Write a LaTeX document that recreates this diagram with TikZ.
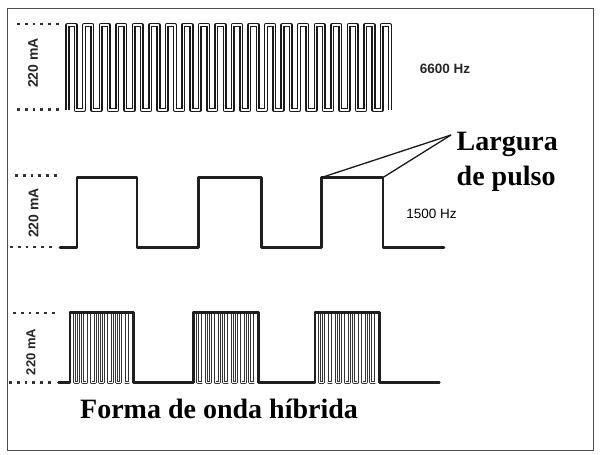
\documentclass[tikz,border=0pt]{standalone}
\usepackage{fontspec}
\setmainfont{Liberation Serif}
\newfontfamily\lsans{Liberation Sans}
\begin{document}
\begin{tikzpicture}[x=1pt,y=-1pt,
  frame/.style={draw=black!70, line width=1pt},
  thickwave/.style={draw=black!88, line width=2.8pt, line join=round, line cap=round},
  dblwave/.style={draw=black!90, line width=1.5pt, double=white, double distance=1.1pt, line join=round},
  thinwave/.style={draw=black!80, line width=0.9pt, double=white, double distance=0.8pt, line join=round},
  dotsq/.style={fill=black!80},
  pointer/.style={draw=black!90, line width=1.3pt},
  amp/.style={font=\lsans\bfseries\fontsize{14}{15}\selectfont, text=black!85, rotate=90, inner sep=0pt},
  freq/.style={font=\lsans\bfseries\fontsize{13.5}{15}\selectfont, text=black!85, inner sep=0pt},
  big/.style={font=\bfseries\fontsize{28}{30}\selectfont, text=black, inner sep=0pt}
]
\useasboundingbox (0,0) rectangle (600,455);
\draw[frame] (7,8) rectangle (593,450);

% dotted reference rows
\foreach \x/\y in {17/24, 17/109.5, 15/175.5, 10/247, 13/313, 9/382.5} {
  \foreach \i in {0,...,5} {
    \fill[dotsq] ({\x+\i*7.8},{\y-1.4}) rectangle ++(2.8,2.8);
  }
}

% amplitude labels
\node[amp] (a1) at (33,63) {220 mA};
\node[amp] (a2) at (33.5,213) {220 mA};
\node[amp, font=\lsans\bfseries\fontsize{13}{14}\selectfont] (a3) at (31,352) {220 mA};

% top wave 6600 Hz
\pgfmathsetmacro{\tw}{322.5/39}
\draw[dblwave] (67.5,110) \foreach \k in {0,...,18} { -- ++(0,-85) -- ++(\tw,0) -- ++(0,85) -- ++(\tw,0) } -- ++(0,-85) -- ++(\tw,0) -- ++(0,85);
\node[freq] (f1) at (445,69) {6600 Hz};

% middle wave 1500 Hz
\coordinate (p3l) at (321.5,177.5);
\coordinate (p3r) at (383,177.5);
\draw[thickwave] (60,247.5) -- (77,247.5) -- (77,177.5) -- (137,177.5) -- (137,247.5)
  -- (198.5,247.5) -- (198.5,177.5) -- (261.5,177.5) -- (261.5,247.5)
  -- (321.5,247.5) -- (p3l) -- (p3r) -- (383,247.5) -- (444,247.5);
\node[freq, font=\lsans\fontsize{13.5}{15}\selectfont, text=black] (f2) at (431.5,214) {1500 Hz};

% pointer to pulse width
\coordinate (apex) at (451,135);
\draw[pointer] (apex) -- (p3l);
\draw[pointer] (apex) -- (p3r);
\node[big, anchor=base west] (larg) at (456.5,150) {Largura};
\node[big, anchor=base west] (puls) at (456.5,185.5) {de pulso};

% bottom hybrid wave
\foreach \a/\b in {70/133.3, 193.3/258.3, 315/379.3} {
  \pgfmathsetmacro{\bw}{(\b-\a)/15}
  \draw[thinwave] (\a,382.7) \foreach \k in {0,...,6} { -- ++(0,-70) -- ++(\bw,0) -- ++(0,70) -- ++(\bw,0) } -- ++(0,-70) -- ++(\bw,0) -- ++(0,70);
}
\draw[thickwave] (58.5,382.7) -- (70,382.7) -- (70,312.7) -- (133.3,312.7) -- (133.3,382.7)
  -- (193.3,382.7) -- (193.3,312.7) -- (258.3,312.7) -- (258.3,382.7)
  -- (315,382.7) -- (315,312.7) -- (379.3,312.7) -- (379.3,382.7) -- (439.3,382.7);
\node[big, anchor=base west] (forma) at (80,418) {Forma de onda híbrida};
\end{tikzpicture}
\end{document}
